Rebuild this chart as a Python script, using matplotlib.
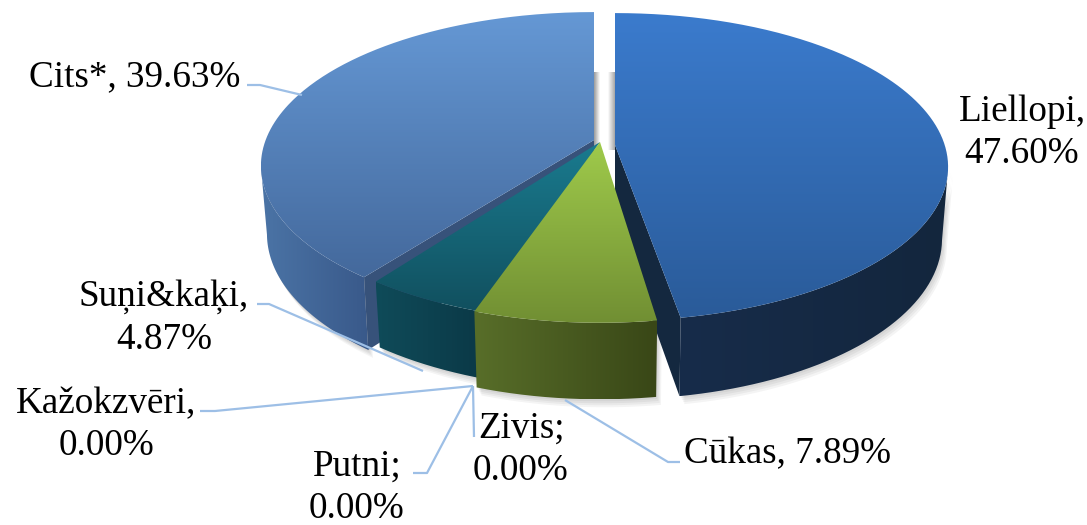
import numpy as np
import matplotlib
matplotlib.use("Agg")
import matplotlib.pyplot as plt
from matplotlib.colors import LinearSegmentedColormap
from matplotlib.patches import PathPatch, Polygon
from matplotlib.path import Path

categories = ["Liellopi", "Cūkas", "Zivis", "Putni", "Kažokzvēri", "Suņi&kaķi", "Cits*"]
shares = [47.60, 7.89, 0.00, 0.00, 0.00, 4.87, 39.63]
label_texts = ["Liellopi,\n47.60%", "Cūkas, 7.89%", "Zivis;\n0.00%", "Putni;\n0.00%",
               "Kažokzvēri,\n0.00%", "Suņi&kaķi,\n4.87%", "Cits*, 39.63%"]

plt.rcParams['font.family'] = ['Liberation Serif', 'DejaVu Serif']

fig = plt.figure(figsize=(10.87, 5.25), dpi=100)
ax = fig.add_axes([0, 0, 1, 1])

# perspective of the tilted disc
K = 0.136
A_TOP, B_TOP = 330, 151
A_BOT, B_BOT = 324, 157.5


def rim(theta, cx, cy, a, b):
    u, v = np.sin(theta), np.cos(theta)
    d = 1 + K * v
    return cx + a * u / d, cy - b * v / d


def gradient(poly, c1, c2, horizontal=False, z=1):
    xs, ys = poly[:, 0], poly[:, 1]
    cmap = LinearSegmentedColormap.from_list("g", [c1, c2])
    if horizontal:
        img = np.linspace(0, 1, 200).reshape(1, -1)
    else:
        img = np.linspace(0, 1, 200).reshape(-1, 1)
    im = ax.imshow(img, cmap=cmap, aspect='auto', interpolation='bilinear', zorder=z,
                   extent=[xs.min(), xs.max(), ys.max(), ys.min()])
    patch = PathPatch(Path(np.vstack([poly, poly[:1]])), transform=ax.transData, fc='none', ec='none')
    ax.add_patch(patch)
    im.set_clip_path(patch)


total = sum(shares)
edges = np.cumsum([0] + shares) / total * 2 * np.pi

# slice layout: index -> rim centre x, y, apex y, depth, angle nudges (deg), colours
layout = {
    6: (594, 145, 140, 67, 1.2, 0.0, ('#6598D5', '#44699C'), ('#4B74A6', '#39598A'), '#37527A'),
    5: (600, 147, 142, 60, -1.0, 0.0, ('#1A7B8F', '#11505F'), ('#0F4B59', '#0B3947'), None),
    1: (600, 148, 142, 69, 0.0, -0.4, ('#9FCA4B', '#718F33'), ('#586E29', '#394717'), None),
    0: (615, 146, 145, 71, 0.0, -1.3, ('#3B7BCD', '#2A5B99'), ('#172C4A', '#13263D'), '#14283F'),
}

parts = {}
for i, (cx, cy, ay, depth, n0, n1, top_c, wall_c, cut_c) in layout.items():
    t = np.linspace(edges[i] + np.radians(n0), edges[i + 1] + np.radians(n1), 200)
    tx, ty = rim(t, cx, cy, A_TOP, B_TOP)
    bx, by = rim(t, cx, cy + depth, A_BOT, B_BOT)
    top = np.column_stack([np.r_[cx, tx], np.r_[ay, ty]])
    # only the front of the rim shows a wall
    vis = np.cos(t) < -K
    wall = np.column_stack([np.r_[tx[vis], bx[vis][::-1]], np.r_[ty[vis], by[vis][::-1]]])
    parts[i] = (top, wall, (tx, ty, bx, by, cx, ay, depth))

# soft shadow under the outer walls
for i in parts:
    wall = parts[i][1]
    for d in (2, 4, 6, 8):
        ax.add_patch(Polygon(wall + [d * 0.6, d], fc='black', ec='none', alpha=0.045, zorder=0.5))

# grey shade inside the gap
for x0, x1, c1, c2 in [(594, 600, '#9a9a9a', '#ffffff'), (608, 615, '#ffffff', '#a5a5a5')]:
    gradient(np.array([[x0, 72], [x1, 72], [x1, 150], [x0, 150]]), c1, c2, horizontal=True, z=0.6)


def cut_face(i, end, color, z):
    tx, ty, bx, by, cx, ay, depth = parts[i][2]
    k = 0 if end == 'start' else -1
    face = np.array([[cx, ay], [tx[k], ty[k]], [bx[k], by[k]], [cx, ay + depth]])
    ax.add_patch(Polygon(face, fc=color, ec='none', zorder=z))


# back to front
gradient(parts[6][1], *layout[6][7], horizontal=True, z=2)
cut_face(6, 'start', layout[6][8], 2.1)
gradient(parts[6][0], *layout[6][6], z=2.2)
cut_face(0, 'end', layout[0][8], 2.5)
gradient(parts[5][1], *layout[5][7], horizontal=True, z=3)
gradient(parts[5][0], *layout[5][6], z=3.1)
gradient(parts[1][1], *layout[1][7], horizontal=True, z=4)
gradient(parts[1][0], *layout[1][6], z=4.1)
gradient(parts[0][1], *layout[0][7], horizontal=True, z=5)
gradient(parts[0][0], *layout[0][6], z=5.1)

# leader lines
leaders = [
    [(247, 85), (260, 85), (302, 95)],
    [(257, 304), (269, 304), (423, 371)],
    [(200, 411), (215, 411), (473, 386)],
    [(413, 473), (427, 473), (473, 386)],
    [(473, 386), (474, 437)],
    [(565, 400), (668, 462), (680, 462)],
]
for pts in leaders:
    xy = np.array(pts)
    ax.plot(xy[:, 0], xy[:, 1], color='#9DBFE6', lw=1.6, zorder=6, solid_capstyle='butt')

# label centres
label_pos = [(1022, 133), (788, 454), (521, 450), (357, 488), (106, 425), (164, 318), (135, 77)]
for s, (x, y) in zip(label_texts, label_pos):
    ax.text(x, y, s, fontsize=26.7, ha='center', va='center', multialignment='center',
            linespacing=1.3, color='black', zorder=7)

ax.set_xlim(0, 1087)
ax.set_ylim(525, 0)
ax.axis('off')
fig.savefig("out.png", dpi=100)
